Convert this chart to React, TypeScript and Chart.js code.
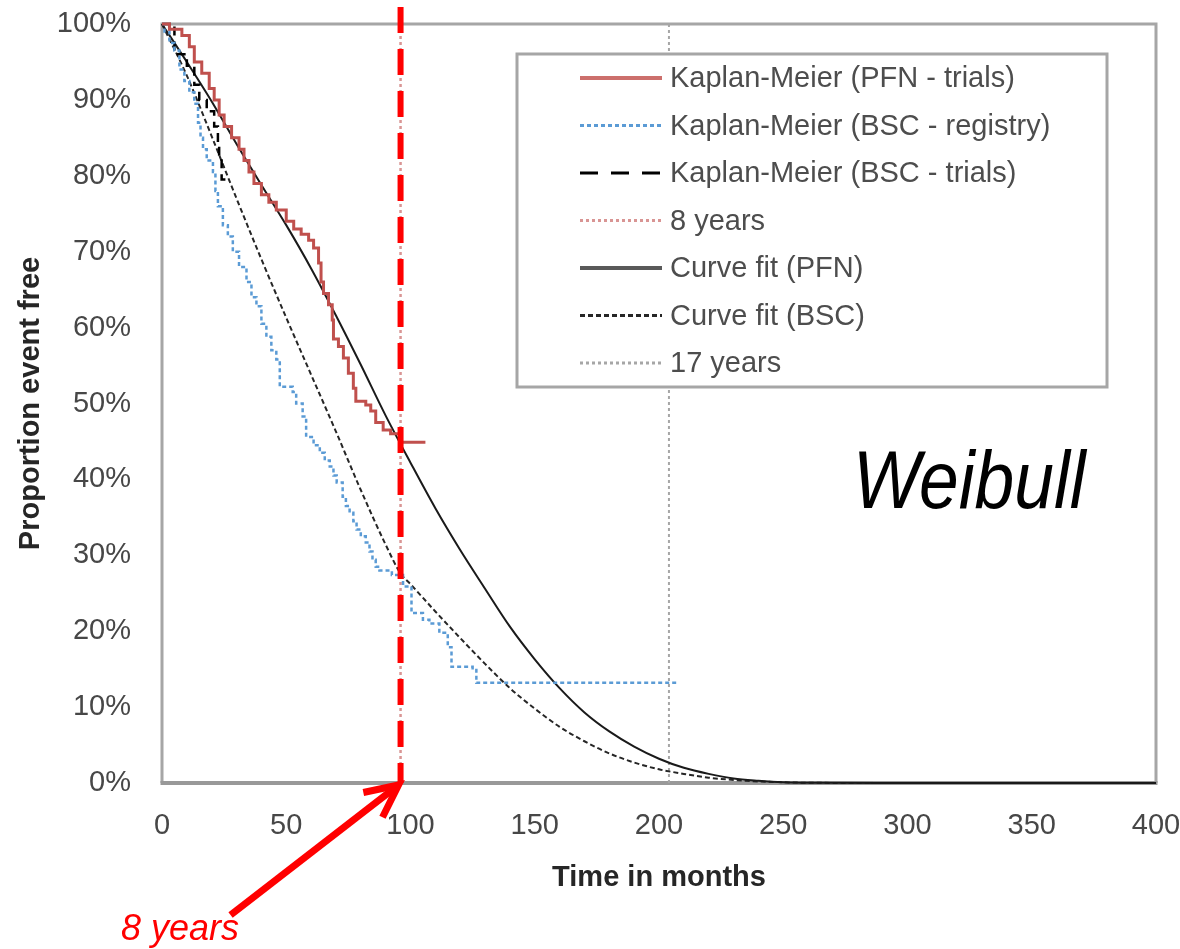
import React, { useEffect, useRef } from 'react';
import { Chart, registerables } from 'chart.js';

Chart.register(...registerables);

// ---------- data ----------
const X_TICKS = [0, 50, 100, 150, 200, 250, 300, 350, 400];
const Y_TICKS = [0, 10, 20, 30, 40, 50, 60, 70, 80, 90, 100];
const Y_TICK_LABELS = ['0%', '10%', '20%', '30%', '40%', '50%', '60%', '70%', '80%', '90%', '100%'];

const X_TITLE = 'Time in months';
const Y_TITLE = 'Proportion event free';

const LEGEND_LABELS = [
  'Kaplan-Meier (PFN - trials)',
  'Kaplan-Meier (BSC - registry)',
  'Kaplan-Meier (BSC - trials)',
  '8 years',
  'Curve fit (PFN)',
  'Curve fit (BSC)',
  '17 years',
];

// Kaplan-Meier (PFN - trials): step corners (months, % event free)
const KM_PFN_T = [0, 3, 8, 11, 13, 16, 19, 21, 23, 25, 28, 31, 33, 35, 37, 40, 43, 46, 50, 53, 56, 59, 61, 63, 64, 65, 67, 68.5, 69, 71, 73, 75, 77, 78, 82, 84, 86, 89, 92, 96, 106];
const KM_PFN_S = [100, 99.3, 98.5, 97, 95, 93.5, 91.5, 90, 88, 86.5, 85, 83.5, 82, 80.5, 79, 77.5, 76.5, 75.5, 74, 73, 72.3, 71.5, 70.5, 68.5, 66, 64.5, 63, 61, 58.5, 57.5, 56, 54, 52, 50.3, 49.8, 49, 47.5, 46.5, 46, 44.9, 44.9];

// Kaplan-Meier (BSC - registry)
const KM_BSCR_T = [0, 1, 3, 5, 7, 9, 11, 13, 14.5, 15.5, 16.5, 18, 20.5, 21.5, 22.5, 24.5, 26.5, 28.5, 31, 34, 36, 38, 40, 42, 44, 46, 47.4, 52.6, 54, 56.6, 58, 61, 63.5, 65.5, 67.5, 69, 70.3, 72.7, 74, 75.5, 77, 78.3, 80, 82, 83.5, 84.7, 86, 87.5, 92.5, 97, 100.4, 105, 107.6, 111.6, 115, 116.5, 125, 126.5, 208];
const KM_BSCR_S = [100, 99, 97.5, 96.5, 94, 92.5, 91, 89.5, 87, 85, 83.5, 82, 80.5, 78, 76, 73.5, 72, 70, 68, 66, 64, 62.8, 60.5, 58.8, 57, 55.8, 52.2, 51.5, 50, 48.3, 45.6, 44.5, 43.5, 42.5, 41.7, 40.5, 39.6, 37.7, 36.5, 35.6, 34.5, 33.4, 32.5, 31.7, 30.5, 29.4, 28.5, 28, 27.4, 25.9, 22.4, 21.5, 21, 19.8, 17.9, 15.3, 14.9, 13.2, 13.2];

// Kaplan-Meier (BSC - trials)
const KM_BSCT_T = [0, 5, 10, 13, 15, 18, 21, 22.5, 23, 24, 26];
const KM_BSCT_S = [100, 96, 94.5, 92, 90, 88.5, 86.5, 84, 82.5, 79.5, 79];

// Curve fit (PFN)
const FIT_PFN_T = [0, 10, 20, 30, 40, 50, 60, 70, 80, 90, 100, 110, 120, 130, 140, 150, 160, 170, 180, 190, 200, 210, 220, 230, 240, 250, 260, 300, 350, 400];
const FIT_PFN_S = [100, 95, 89.8, 84.2, 78.8, 73.5, 67.8, 61.6, 55.1, 48.4, 42.2, 36.2, 30.7, 25.6, 20.6, 16.3, 12.5, 9.3, 6.8, 4.8, 3.2, 2.0, 1.2, 0.6, 0.3, 0.1, 0.03, 0, 0, 0];

// Curve fit (BSC)
const FIT_BSC_T = [0, 10, 20, 30, 40, 50, 60, 70, 80, 90, 96, 100, 110, 120, 130, 140, 150, 160, 170, 180, 190, 200, 210, 220, 230, 240, 250, 260, 300, 350, 400];
const FIT_BSC_S = [100, 93.2, 85.2, 77, 69, 61.3, 53.8, 46.3, 38.6, 31.4, 27.6, 26.2, 22.6, 19.1, 15.7, 12.5, 9.8, 7.4, 5.5, 3.9, 2.7, 1.8, 1.2, 0.7, 0.4, 0.2, 0.1, 0.03, 0, 0, 0];

const EIGHT_YEARS = 96;
const SEVENTEEN_YEARS = 204;
const VLINE_S = [0, 100];

// ---------- helpers ----------
const FONT = '"Liberation Sans", Arial, sans-serif';
const pts = (t: number[], s: number[]) => t.map((x, i) => ({ x, y: s[i] }));

const plotFrame = {
  id: 'plotFrame',
  beforeDatasetsDraw(chart: any) {
    const { ctx, chartArea: a } = chart;
    ctx.save();
    ctx.strokeStyle = '#A6A6A6';
    ctx.lineWidth = 3;
    ctx.beginPath();
    ctx.moveTo(a.left, a.bottom);
    ctx.lineTo(a.left, a.top);
    ctx.lineTo(a.right, a.top);
    ctx.lineTo(a.right, a.bottom);
    ctx.stroke();
    ctx.strokeStyle = '#999999';
    ctx.lineWidth = 4;
    ctx.beginPath();
    ctx.moveTo(a.left - 1.5, a.bottom);
    ctx.lineTo(a.right + 1.5, a.bottom);
    ctx.stroke();
    ctx.restore();
  },
};

const annotations = {
  id: 'annotations',
  afterDatasetsDraw(chart: any) {
    const { ctx, chartArea: a, scales } = chart;
    const x8 = scales.x.getPixelForValue(EIGHT_YEARS);
    ctx.save();

    // legend box
    const lx = 517, ly = 54, lw = 590, lh = 333;
    ctx.fillStyle = '#FFFFFF';
    ctx.fillRect(lx, ly, lw, lh);
    ctx.strokeStyle = '#A6A6A6';
    ctx.lineWidth = 3;
    ctx.strokeRect(lx, ly, lw, lh);
    const ds = chart.data.datasets;
    ctx.font = `29px ${FONT}`;
    ctx.textBaseline = 'middle';
    ctx.textAlign = 'left';
    for (let i = 0; i < ds.length; i++) {
      const y = 78 + i * 47.5;
      ctx.strokeStyle = ds[i].legendColor || ds[i].borderColor;
      ctx.lineWidth = ds[i].legendWidth || Math.max(ds[i].borderWidth, 3);
      ctx.setLineDash(ds[i].legendDash || ds[i].borderDash || []);
      ctx.beginPath();
      ctx.moveTo(580, y);
      ctx.lineTo(662, y);
      ctx.stroke();
      ctx.setLineDash([]);
      ctx.fillStyle = '#4D4D4D';
      ctx.fillText(ds[i].label, 670, y + 1);
    }

    // thick red dashed 8-year marker
    ctx.strokeStyle = '#FF0000';
    ctx.lineWidth = 6;
    ctx.setLineDash([26, 16]);
    ctx.beginPath();
    ctx.moveTo(x8, 7);
    ctx.lineTo(x8, a.bottom);
    ctx.stroke();
    ctx.setLineDash([]);

    // arrow
    const hx = x8 - 2, hy = a.bottom + 2;
    const tx = hx - 168, ty = hy + 130;
    ctx.lineWidth = 7;
    ctx.lineCap = 'butt';
    ctx.lineJoin = 'miter';
    ctx.beginPath();
    ctx.moveTo(tx, ty);
    ctx.lineTo(hx, hy);
    ctx.stroke();
    const ang = Math.atan2(ty - hy, tx - hx);
    ctx.beginPath();
    ctx.moveTo(hx + 36 * Math.cos(ang - 0.45), hy + 36 * Math.sin(ang - 0.45));
    ctx.lineTo(hx, hy);
    ctx.lineTo(hx + 36 * Math.cos(ang + 0.45), hy + 36 * Math.sin(ang + 0.45));
    ctx.stroke();

    ctx.fillStyle = '#FF0000';
    ctx.font = `italic 36px ${FONT}`;
    ctx.textBaseline = 'alphabetic';
    ctx.fillText('8 years', 121, 940);

    // Weibull label
    ctx.save();
    ctx.translate(853, 508);
    ctx.scale(0.87, 1);
    ctx.fillStyle = '#000000';
    ctx.font = `italic 82px ${FONT}`;
    ctx.fillText('Weibull', 0, 0);
    ctx.restore();

    ctx.restore();
  },
};

export default function App() {
  const ref = useRef<HTMLCanvasElement | null>(null);

  useEffect(() => {
    if (!ref.current) return;
    const chart = new Chart(ref.current, {
      type: 'line',
      data: {
        datasets: [
          {
            label: LEGEND_LABELS[0],
            data: pts(KM_PFN_T, KM_PFN_S),
            borderColor: '#C0504D',
            borderWidth: 3,
            legendColor: '#CC6F6C',
            legendWidth: 4,
            stepped: true,
            pointRadius: 0,
            clip: false,
          },
          {
            label: LEGEND_LABELS[1],
            data: pts(KM_BSCR_T, KM_BSCR_S),
            borderColor: '#5B9BD5',
            borderWidth: 2.5,
            borderDash: [4, 3],
            stepped: true,
            pointRadius: 0,
            clip: false,
          },
          {
            label: LEGEND_LABELS[2],
            data: pts(KM_BSCT_T, KM_BSCT_S),
            borderColor: '#000000',
            borderWidth: 2.5,
            borderDash: [9, 6],
            legendDash: [18, 13],
            stepped: true,
            pointRadius: 0,
            clip: false,
          },
          {
            label: LEGEND_LABELS[3],
            data: pts([EIGHT_YEARS, EIGHT_YEARS], VLINE_S),
            borderColor: '#D99594',
            borderWidth: 2.5,
            borderDash: [3, 3],
            pointRadius: 0,
            clip: false,
          },
          {
            label: LEGEND_LABELS[4],
            data: pts(FIT_PFN_T, FIT_PFN_S),
            borderColor: '#1A1A1A',
            borderWidth: 2,
            legendColor: '#595959',
            legendWidth: 4,
            cubicInterpolationMode: 'monotone',
            pointRadius: 0,
            clip: false,
          },
          {
            label: LEGEND_LABELS[5],
            data: pts(FIT_BSC_T, FIT_BSC_S),
            borderColor: '#262626',
            borderWidth: 2,
            borderDash: [5, 3],
            cubicInterpolationMode: 'monotone',
            pointRadius: 0,
            clip: false,
          },
          {
            label: LEGEND_LABELS[6],
            data: pts([SEVENTEEN_YEARS, SEVENTEEN_YEARS], VLINE_S),
            borderColor: '#A6A6A6',
            borderWidth: 2,
            borderDash: [3, 3],
            pointRadius: 0,
            clip: false,
          },
        ],
      },
      options: {
        responsive: false,
        animation: false,
        devicePixelRatio: 1,
        layout: { padding: { top: 24, right: 24, left: 0, bottom: 0 } },
        plugins: {
          legend: { display: false },
          tooltip: { enabled: false },
        },
        scales: {
          x: {
            type: 'linear',
            min: 0,
            max: 400,
            afterBuildTicks: (s: any) => {
              s.ticks = X_TICKS.map((v) => ({ value: v }));
            },
            afterFit: (s: any) => {
              s.height = 949 - 783;
              s.paddingLeft = 0;
              s.paddingRight = 0;
            },
            grid: { display: false, drawTicks: false },
            border: { display: false },
            ticks: {
              autoSkip: false,
              maxRotation: 0,
              padding: 26,
              color: '#474747',
              font: { family: FONT, size: 29 },
              callback: (v: any) => String(v),
            },
            title: {
              display: true,
              text: X_TITLE,
              color: '#262626',
              font: { family: FONT, size: 29, weight: 'bold', lineHeight: 1.2 },
              padding: { top: 0, bottom: 54 },
            },
          },
          y: {
            type: 'linear',
            min: 0,
            max: 100,
            afterBuildTicks: (s: any) => {
              s.ticks = Y_TICKS.map((v) => ({ value: v }));
            },
            afterFit: (s: any) => {
              s.width = 162;
              s.paddingTop = 0;
              s.paddingBottom = 0;
            },
            grid: { display: false, drawTicks: false },
            border: { display: false },
            ticks: {
              padding: 31,
              color: '#474747',
              font: { family: FONT, size: 29 },
              callback: (v: any) => Y_TICK_LABELS[Y_TICKS.indexOf(Math.round(v))] ?? '',
            },
            title: {
              display: true,
              text: Y_TITLE,
              color: '#262626',
              font: { family: FONT, size: 29, weight: 'bold', lineHeight: 1.2 },
              padding: { top: 14, bottom: 0 },
            },
          },
        },
      },
      plugins: [plotFrame, annotations],
    } as any);
    return () => chart.destroy();
  }, []);

  return (
    <div style={{ position: 'fixed', left: 0, top: 0, width: 1180, height: 949, background: '#fff' }}>
      <canvas ref={ref} width={1180} height={949} />
    </div>
  );
}
